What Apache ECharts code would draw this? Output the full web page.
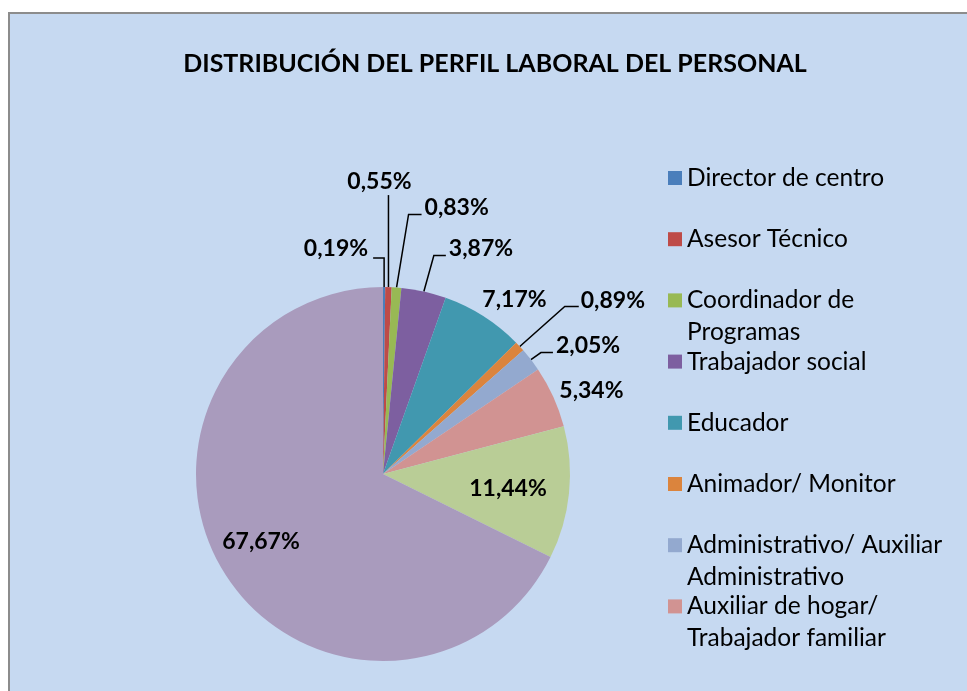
<!DOCTYPE html>
<html>
<head>
<meta charset="utf-8">
<script src="https://cdn.jsdelivr.net/npm/echarts@6/dist/echarts.min.js"></script>
<style>
  html, body { margin: 0; padding: 0; background: #fff; }
  #chart { width: 967px; height: 691px; }
</style>
</head>
<body>
<div id="chart"></div>
<script>
var perfiles = ['Director de centro', 'Asesor Técnico', 'Coordinador de\nProgramas',
  'Trabajador social', 'Educador', 'Animador/ Monitor',
  'Administrativo/ Auxiliar\nAdministrativo', 'Auxiliar de hogar/\nTrabajador familiar',
  'Personal de servicios', 'Otro personal'];
var porcentajes = [0.19, 0.55, 0.83, 3.87, 7.17, 0.89, 2.05, 5.34, 11.44, 67.67];
// only the first 8 fit in the legend (as in the original)
var enLeyenda = perfiles.slice(0, 8);

var colores = ['#4A7EBB', '#BE4B48', '#98B954', '#7D5FA0', '#4198AF',
  '#DB843D', '#93A9CF', '#D19392', '#B9CD96', '#A99BBD'];

// label placement relative to the point where the leader line leaves the slice
var lbl = [
  { line: [[0, -29], [-11, -29]], pos: [-16, -38], align: 'right' },
  { line: [[0, -92], [0, -92]], pos: [-9, -106], align: 'center' },
  { line: [[12, -73], [25, -73]], pos: [28, -80], align: 'left' },
  { line: [[10, -36], [22, -36]], pos: [25, -43], align: 'left' },
  { pos: [31, -17], align: 'center' },
  { line: [[45, -40], [59, -40]], pos: [61, -46], align: 'left' },
  { line: [[10, -7], [22, -7]], pos: [25, -14], align: 'left' },
  { pos: [6, -6], align: 'left' },
  { d: [29, 5] },
  { d: [-40, 17] }
];

var chart = echarts.init(document.getElementById('chart'));

var datos = perfiles.map(function (n, i) {
  var item = { name: n, value: porcentajes[i] };
  if (i >= 8) {
    item.label = { position: 'inside' };
    item.labelLine = { show: false };
  } else if (!lbl[i].line) {
    item.labelLine = { lineStyle: { opacity: 0 } };
  }
  return item;
});

// one legend block per item so the spacing stays even with two-line names
var leyendas = enLeyenda.map(function (n, i) {
  var dos = n.indexOf('\n') >= 0;
  return {
    orient: 'vertical',
    left: 668,
    top: 171 + i * 61.2 - (dos ? 41 : 9),
    padding: 0,
    itemWidth: 14,
    itemHeight: 14,
    icon: 'rect',
    selectedMode: false,
    data: [n],
    // blank first line keeps the first text line level with the square
    formatter: function (name) { return name.indexOf('\n') >= 0 ? '\n' + name : name; },
    textStyle: { fontFamily: 'Lato', fontSize: 24.5, lineHeight: 32, color: '#000' }
  };
});

var option = {
  backgroundColor: '#fff',
  color: colores,
  graphic: [{
    type: 'rect',
    z: -10,
    shape: { x: 9, y: 13, width: 1000, height: 700 },
    style: { fill: '#C6D9F1', stroke: '#8C8C8C', lineWidth: 2 }
  }],
  title: {
    text: 'DISTRIBUCIÓN DEL PERFIL LABORAL DEL PERSONAL',
    left: 490,
    top: 46,
    textAlign: 'center',
    textStyle: { fontFamily: 'Lato', fontSize: 25, fontWeight: 'bold', color: '#000' }
  },
  legend: leyendas,
  series: [{
    type: 'pie',
    center: [383, 474],
    radius: 187,
    startAngle: 90,
    clockwise: true,
    avoidLabelOverlap: false,
    label: {
      show: true,
      position: 'outside',
      fontFamily: 'Lato',
      fontSize: 23,
      fontWeight: 'bold',
      color: '#000',
      formatter: function (p) { return p.value.toFixed(2).replace('.', ',') + '%'; }
    },
    labelLine: { show: true, length: 20, length2: 10, lineStyle: { color: '#000', width: 1.5 } },
    labelLayout: function (p) {
      var o = lbl[p.dataIndex];
      if (o.d) return { dx: o.d[0], dy: o.d[1] };
      var p0 = p.labelLinePoints[0];
      var res = {
        x: p0[0] + o.pos[0],
        y: p0[1] + o.pos[1],
        align: o.align,
        verticalAlign: 'middle'
      };
      if (o.line) {
        res.labelLinePoints = [p0, [p0[0] + o.line[0][0], p0[1] + o.line[0][1]],
          [p0[0] + o.line[1][0], p0[1] + o.line[1][1]]];
      }
      return res;
    },
    emphasis: { disabled: true },
    data: datos
  }]
};

chart.setOption(option);
</script>
</body>
</html>
